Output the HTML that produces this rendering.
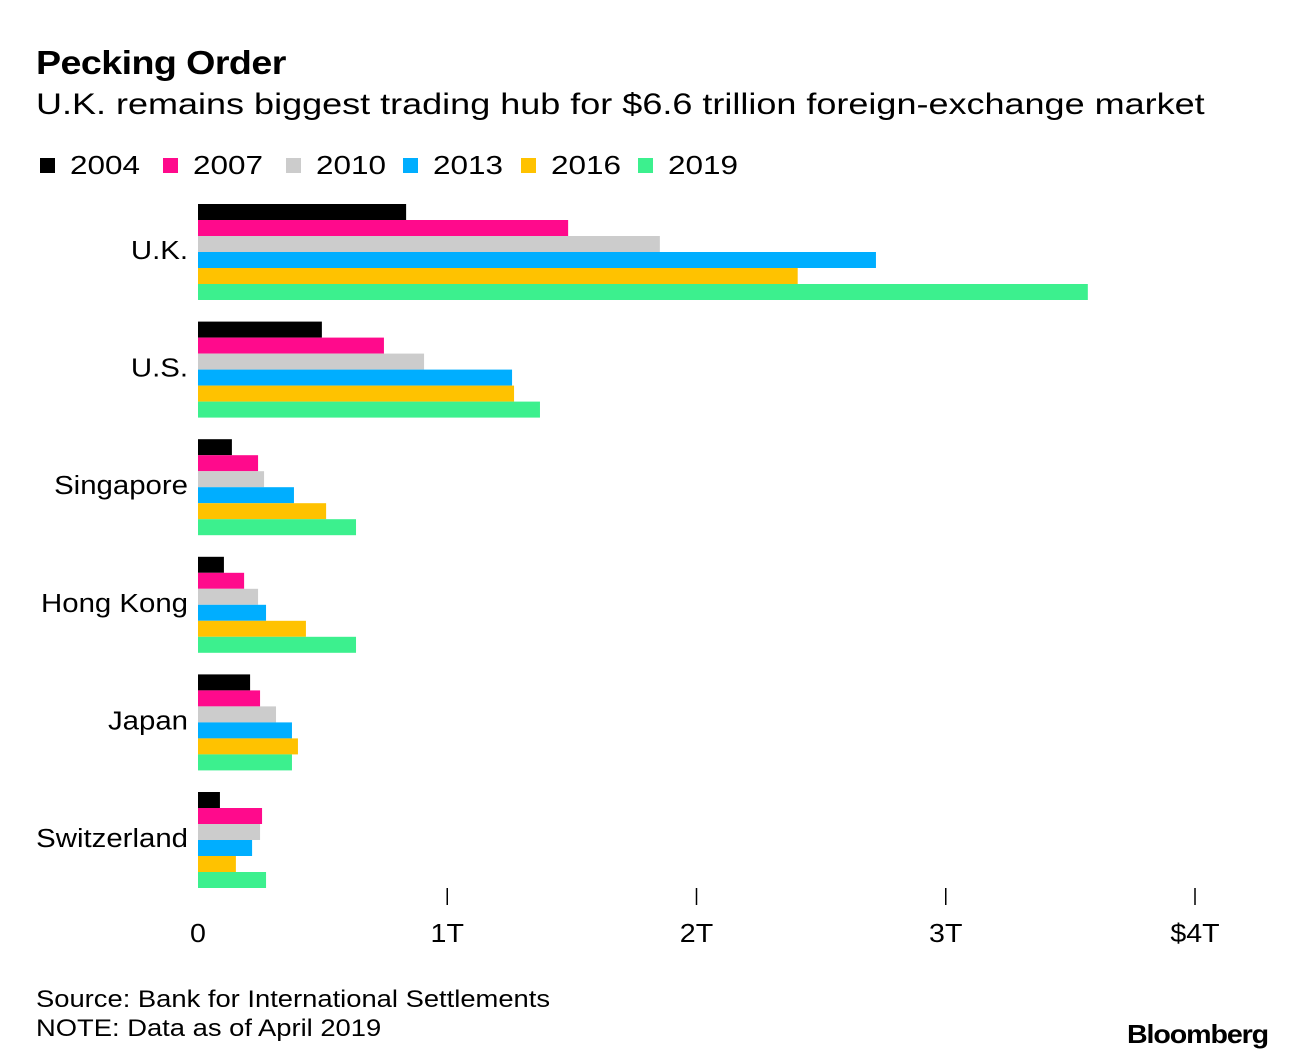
<!DOCTYPE html>
<html><head><meta charset="utf-8">
<style>
body{margin:0;background:#fff;font-family:"Liberation Sans",Arial,sans-serif;}
#wrap{position:relative;width:1296px;height:1060px;overflow:hidden;}
.t{position:absolute;white-space:nowrap;color:#000;transform-origin:0 0;}
</style></head>
<body>
<div id="wrap">
<div class="t" style="left:36px;top:44px;font-size:33px;font-weight:bold;letter-spacing:-0.5px;transform:scaleX(1.14)">Pecking Order</div>
<div class="t" style="left:36px;top:88px;font-size:30px;transform:scaleX(1.2)">U.K. remains biggest trading hub for $6.6 trillion foreign-exchange market</div>
<div id="legend"></div>
<svg id="plot" width="1296" height="1060" style="position:absolute;left:0;top:0"></svg>
<div class="t" style="left:36px;top:986px;font-size:24px;transform:scaleX(1.14)">Source: Bank for International Settlements</div>
<div class="t" style="left:36px;top:1015px;font-size:24px;transform:scaleX(1.14)">NOTE: Data as of April 2019</div>
<div class="t" style="left:1127px;top:1019px;font-size:26px;font-weight:bold;letter-spacing:-1px;transform:scaleX(1.1)">Bloomberg</div>
</div>
<script>
const years=["2004","2007","2010","2013","2016","2019"];
const colors=["#000000","#ff0a8c","#cccccc","#00aeff","#ffc200","#3cf08e"];
const countries=["U.K.","U.S.","Singapore","Hong Kong","Japan","Switzerland"];
const uk=[0.835,1.485,1.853,2.72,2.406,3.57];
const us=[0.497,0.746,0.907,1.26,1.268,1.372];
const sg=[0.136,0.241,0.265,0.385,0.514,0.634];
const hk=[0.104,0.185,0.241,0.273,0.433,0.634];
const jp=[0.209,0.249,0.313,0.377,0.401,0.377];
const ch=[0.088,0.257,0.249,0.217,0.152,0.273];
const ticks=[0,1,2,3,4];
const tickLabels=["0","1T","2T","3T","$4T"];
const values=[uk,us,sg,hk,jp,ch];
const x0=198,pxPerT=249.25,top0=204,barH=16,groupStep=117.6;
const xs=v=>x0+v*pxPerT;
const svg=document.getElementById('plot');
const NS="http://www.w3.org/2000/svg";
countries.forEach((c,gi)=>{
  const gy=top0+gi*groupStep;
  values[gi].forEach((v,si)=>{
    const r=document.createElementNS(NS,'rect');
    
    
    r.setAttribute('x',x0);r.setAttribute('y',gy+si*barH);
    r.setAttribute('width',xs(v)-x0);r.setAttribute('height',barH);
    r.setAttribute('fill',colors[si]);
    svg.appendChild(r);
  });
  const t=document.createElementNS(NS,'text');
  
  
  const ly=gy+barH*3+7;
  t.setAttribute('x',0);t.setAttribute('y',0);
  t.setAttribute('transform',`translate(188,${ly}) scale(1.13,1)`);
  t.setAttribute('text-anchor','end');t.setAttribute('font-size','26');
  t.setAttribute('font-family','Liberation Sans, Arial, sans-serif');
  t.textContent=c;svg.appendChild(t);
});
ticks.forEach((v,i)=>{
  if(i>0){
    const l=document.createElementNS(NS,'line');
    
    
    l.setAttribute('x1',xs(v));l.setAttribute('x2',xs(v));
    l.setAttribute('y1',888);l.setAttribute('y2',905);
    l.setAttribute('stroke','#000');l.setAttribute('stroke-width','1.5');
    svg.appendChild(l);
  }
  const t=document.createElementNS(NS,'text');
  
  
  t.setAttribute('x',0);t.setAttribute('y',0);
  t.setAttribute('transform',`translate(${xs(v)},942) scale(1.1,1)`);
  t.setAttribute('text-anchor','middle');t.setAttribute('font-size','26');
  t.setAttribute('font-family','Liberation Sans, Arial, sans-serif');
  t.textContent=tickLabels[i];svg.appendChild(t);
});
const lg=document.getElementById('legend');
const lx=[40,163,286,403,521,638];
years.forEach((y,i)=>{
  const s=document.createElement('div');
  
  
  s.style.cssText=`position:absolute;left:${lx[i]}px;top:158px;width:15px;height:15px;background:${colors[i]}`;
  lg.appendChild(s);
  const t=document.createElement('div');
  t.className='t';
  
  
  t.style.cssText=`left:${lx[i]+30}px;top:150px;font-size:26px;transform:scaleX(1.21)`;
  t.textContent=y;lg.appendChild(t);
});
</script>
</body></html>
